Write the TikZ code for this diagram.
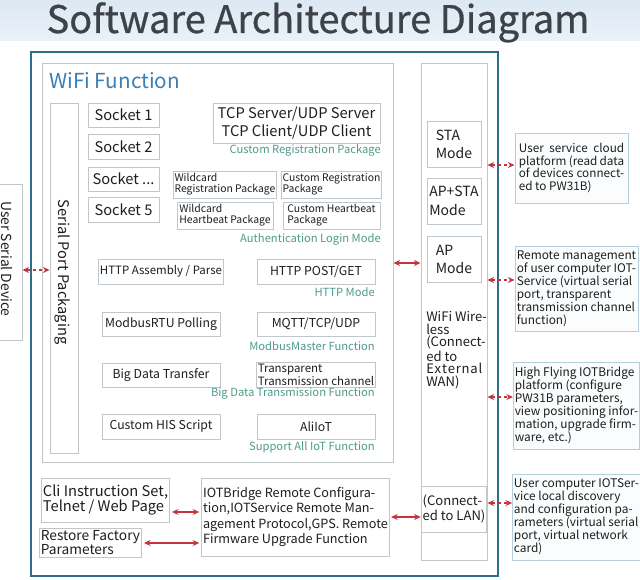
\documentclass[tikz,border=0pt]{standalone}
\usepackage{fontspec}
\setmainfont{Noto Sans CJK SC}
\newfontfamily\ttlfont[FakeBold=0.7]{Noto Sans CJK SC}
\usetikzlibrary{arrows.meta}
\definecolor{titlebgA}{HTML}{DCE8F2}
\definecolor{titlebgB}{HTML}{EAF2F8}
\definecolor{titletext}{HTML}{3D4349}
\definecolor{outerblue}{HTML}{2C6D8C}
\definecolor{boxgray}{HTML}{BFC7CC}
\definecolor{lblgreen}{HTML}{4E9C8C}
\definecolor{wifiblue}{HTML}{3B7FB4}
\definecolor{arrred}{HTML}{C33441}
\definecolor{rboxline}{HTML}{B3CFDC}
\definecolor{rboxfill}{HTML}{FAFCFD}
\definecolor{txt}{HTML}{1E1E1E}
\newcommand{\fsz}[2]{\fontsize{#1pt}{#2pt}\selectfont}
\newcommand{\bx}[7][]{\node[gbox,#1,minimum width={(#5-#3)*0.75pt},minimum height={(#6-#4)*0.75pt}] (#2) at ({(#3+#5)/2},{(#4+#6)/2}) {#7};}
\newcommand{\jline}[1]{\makebox[79pt][s]{#1}}
\tikzset{
  gbox/.style={draw=boxgray,line width=0.7pt,fill=white,inner sep=1pt,text=txt,font=\fsz{9.2}{10.5}},
  outerbox/.style={draw=outerblue,line width=1.9pt,fill=none},
  rbox/.style={draw=rboxline,fill=rboxfill,line width=0.7pt,align=left,font=\fsz{8.9}{9.7}},
  lbl/.style={text=lblgreen,font=\fsz{8.4}{9},inner sep=0pt,anchor=east},
  arr/.style={draw=arrred,line width=0.8pt,{Stealth[length=5pt,width=4.5pt]}-{Stealth[length=5pt,width=4.5pt]}},
  darr/.style={arr,dash pattern=on 2.5pt off 2pt}
}
\begin{document}
\begin{tikzpicture}[x=0.75pt,y=-0.75pt]
\useasboundingbox (0,0) rectangle (640,580);
\shade[top color=titlebgA,bottom color=titlebgB] (0,0) rectangle (640,41);
\node[text=titletext,font=\ttlfont\fsz{28.5}{30},anchor=base,inner sep=0pt] (title) at (318,33) {Software Architecture Diagram};

% outer frame
\bx[outerbox]{outer}{31}{52}{498}{576}{}
% user serial device (left, cut off)
\bx{usd}{-6}{184}{22}{340}{}
\node[rotate=-90,font=\fsz{10.4}{11},text=txt] (usdt) at (7,259) {User Serial Device};

% WiFi function box
\bx{wifibox}{42}{63}{393}{462}{}
\node[anchor=west,text=wifiblue,font=\fsz{15.5}{17},inner sep=0pt] (wftitle) at (49,81) {WiFi Function};
\bx{spp}{50}{103}{78}{453}{}
\node[rotate=-90,font=\fsz{11}{12},text=txt] (sppt) at (63,272) {Serial Port Packaging};

% sockets
\bx[font=\fsz{11}{12}]{s1}{88}{103}{159}{127}{Socket 1}
\bx[font=\fsz{11}{12}]{s2}{88}{134}{159}{159}{Socket 2}
\bx[font=\fsz{11}{12}]{s3}{88}{167}{159}{191}{Socket ...}
\bx[font=\fsz{11}{12}]{s5}{88}{197}{159}{222}{Socket 5}

\bx[font=\fsz{11}{13.5},align=center]{tcp}{213}{103}{380}{143}{TCP Server/UDP Server\\TCP Client/UDP Client}
\node[lbl] (l1) at (381,150) {Custom Registration Package};

\bx[font=\fsz{7.8}{8.2},align=left]{wrp}{177}{171}{273}{198}{Wildcard\\Registration Package}
\bx[font=\fsz{7.8}{8.2},align=left]{crp}{283}{171}{380}{198}{Custom Registration\\Package}
\bx[font=\fsz{7.8}{8.2},align=left]{whp}{177}{202}{273}{229}{Wildcard\\Heartbeat Package}
\bx[font=\fsz{7.8}{8.2},align=left]{chp}{283}{202}{380}{229}{Custom Heartbeat\\Package}
\node[lbl] (l2) at (381,239) {Authentication Login Mode};

\bx[font=\fsz{8.6}{10}]{http1}{102}{259}{220}{284}{HTTP Assembly / Parse}
\bx{http2}{257}{259}{375}{284}{HTTP POST/GET}
\node[lbl] (l3) at (375,292) {HTTP Mode};

\bx{mb1}{102}{312}{220}{336}{ModbusRTU Polling}
\bx{mb2}{257}{312}{375}{336}{MQTT/TCP/UDP}
\node[lbl] (l4) at (375,346) {ModbusMaster Function};

\bx{bd1}{102}{363}{220}{387}{Big Data Transfer}
\bx[font=\fsz{8.6}{7.6},align=left]{bd2}{257}{363}{375}{387}{Transparent\\Transmission channel}
\node[lbl] (l5) at (375,394) {Big Data Transmission Function};

\bx{his}{102}{414}{220}{439}{Custom HIS Script}
\bx{ali}{257}{414}{375}{439}{AliIoT}
\node[lbl] (l6) at (375,447) {Support All IoT Function};

% bottom part
\bx[font=\fsz{11}{11.3},align=left]{cli}{43}{478}{168}{522}{Cli Instruction Set,\\Telnet / Web Page}
\bx[font=\fsz{10.3}{10},align=left]{rst}{43}{528}{138}{557}{Restore Factory\\Parameters}
\bx[font=\fsz{9.5}{11.6},align=left]{iotb}{203}{478}{388}{556}{IOTBridge Remote Configura-\\tion,IOTService Remote Man-\\agement Protocol,GPS. Remote\\Firmware Upgrade Function}

% WiFi wireless column
\bx{wcol}{421}{63}{487}{560}{}
\bx[font=\fsz{10.5}{13.5},align=left]{sta}{427}{121}{481}{167}{STA\\Mode}
\bx[font=\fsz{10.5}{14},align=left]{apsta}{427}{178}{481}{224}{AP+STA\\Mode}
\bx[font=\fsz{10.5}{13.5},align=left]{ap}{427}{236}{481}{282}{AP\\Mode}
\node[anchor=north west,align=left,inner sep=0pt,font=\fsz{9.8}{9.5},text=txt] (wwt) at (426,311)
  {WiFi Wire-\\less\\(Connect-\\ed to\\\hbox to 42pt{E\hfil x\hfil t\hfil e\hfil r\hfil n\hfil a\hfil l}\\WAN)};
\bx[font=\fsz{9.8}{9.3},align=left]{lan}{424}{486}{484}{532}{(Connect-\\ed to LAN)}

% right boxes
\bx[rbox,font=\fsz{8.8}{9.3}]{cloud}{515}{133}{628}{203}{\jline{User service cloud}\\\jline{platform (read data}\\\jline{of devices connect-}\\ed to PW31B)}
\bx[rbox]{rmt}{515}{246}{638}{331}{Remote management\\of user computer IOT-\\Service (virtual serial\\port, transparent\\transmission channel\\function)}
\bx[rbox]{hfly}{515}{362}{638}{449}{High Flying IOTBridge\\platform (configure\\PW31B parameters,\\view positioning infor-\\mation, upgrade firm-\\ware, etc.)}
\bx[rbox]{ucmp}{515}{474}{638}{560}{User computer IOTSer-\\vice local discovery\\and configuration pa-\\rameters (virtual serial\\port, virtual network\\card)}

% connectors
\draw[darr] (usd.east |- 0,270) -- (spp.west |- 0,270);
\draw[arr] (wifibox.east |- 0,263) -- (wcol.west |- 0,263);
\draw[darr] (wcol.east |- 0,165) -- (cloud.west |- 0,165);
\draw[darr] (wcol.east |- 0,280) -- (rmt.west |- 0,280);
\draw[darr] (wcol.east |- 0,397) -- (hfly.west |- 0,397);
\draw[darr] (wcol.east |- 0,503) -- (ucmp.west |- 0,503);
\draw[arr] ([xshift=1.5pt]cli.east |- 0,512) -- ([xshift=-1.5pt]iotb.west |- 0,512);
\draw[arr] ([xshift=1.5pt]rst.east |- 0,543) -- ([xshift=-1.5pt]iotb.west |- 0,543);
\draw[arr] ([xshift=1pt]iotb.east |- 0,517) -- (lan.west |- 0,517);
\end{tikzpicture}
\end{document}
